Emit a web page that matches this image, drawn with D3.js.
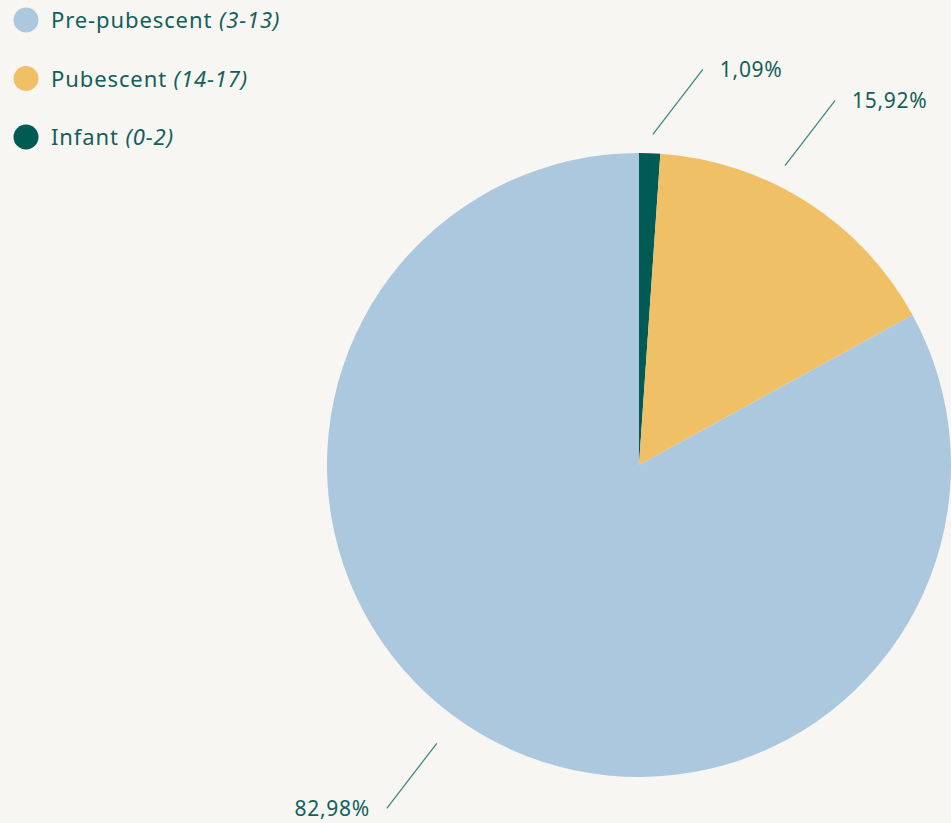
<!DOCTYPE html>
<html>
<head>
<meta charset="utf-8">
<script src="https://cdn.jsdelivr.net/npm/d3@7"></script>
<style>
  html, body { margin: 0; padding: 0; background: #f7f6f3; }
  svg { display: block; }
  text { font-family: "Noto Sans", Lato, sans-serif; }
</style>
</head>
<body>
<svg id="chart" width="951" height="823"></svg>
<script>
// ---- data ----
const categories = ["Infant", "Pubescent", "Pre-pubescent"];
const ageRanges = ["(0-2)", "(14-17)", "(3-13)"];
const values = [1.09, 15.92, 82.98];
const colors = ["#015b55", "#f0c067", "#abc8df"];
const legendOrder = ["Pre-pubescent", "Pubescent", "Infant"];

// ---- layout ----
const W = 951, H = 823;
const cx = 639, cy = 465, R = 312;
const textColor = "#135f5b";
const lineColor = "#3f8a85";

const svg = d3.select("#chart");
svg.append("rect").attr("width", W).attr("height", H).attr("fill", "#f7f6f3");

const color = d3.scaleOrdinal().domain(categories).range(colors);
const data = categories.map((c, i) => ({ cat: c, range: ageRanges[i], value: values[i] }));

const pie = d3.pie().sort(null).value(d => d.value);
const arcs = pie(data);
const arc = d3.arc().innerRadius(0).outerRadius(R);

const g = svg.append("g").attr("transform", `translate(${cx},${cy})`);
g.selectAll("path.slice").data(arcs).join("path")
  .attr("class", "slice")
  .attr("d", arc)
  .attr("fill", d => color(d.data.cat));

// percentage labels with leader lines
const loc = d3.formatLocale({ decimal: ",", thousands: ".", grouping: [3], currency: ["", ""] });
const fmt = v => loc.format(".2f")(v) + "%";

// leader placement: angle (deg) & radius of the inner end, plus side
const leader = {
  "Infant":        { ang: 2.4,  r: 331, dir: 1 },
  "Pubescent":     { ang: 26,   r: 333, dir: 1 },
  "Pre-pubescent": { ang: 216,  r: 344, dir: -1 }
};
const lineVec = [50, -65];

arcs.forEach(d => {
  const L = leader[d.data.cat];
  const a = L.ang * Math.PI / 180;
  const p0 = [L.r * Math.sin(a), -L.r * Math.cos(a)];
  const p1 = [p0[0] + L.dir * lineVec[0], p0[1] + L.dir * lineVec[1]];
  g.append("line")
    .attr("x1", p0[0]).attr("y1", p0[1])
    .attr("x2", p1[0]).attr("y2", p1[1])
    .attr("stroke", lineColor).attr("stroke-width", 1.3);
  g.append("text")
    .attr("x", p1[0] + (L.dir > 0 ? 17 : -17))
    .attr("y", p1[1] + 7.5)
    .attr("text-anchor", L.dir > 0 ? "start" : "end")
    .attr("fill", textColor)
    .attr("font-size", 21)
    .attr("letter-spacing", 0.7)
    .text(fmt(d.data.value));
});

// legend
const legend = svg.append("g");
const legendY = d3.scalePoint().domain(legendOrder).range([20, 137]);
legendOrder.forEach(c => {
  const d = data.find(e => e.cat === c);
  const y = legendY(c);
  legend.append("circle").attr("cx", 26).attr("cy", y).attr("r", 12.5).attr("fill", color(c));
  const t = legend.append("text").attr("x", 51).attr("y", y + 8)
    .attr("fill", textColor).attr("font-size", 22)
    .attr("letter-spacing", 0.9);
  t.append("tspan").text(c + " ");
  t.append("tspan").attr("font-style", "italic").text(d.range);
});
</script>
</body>
</html>
